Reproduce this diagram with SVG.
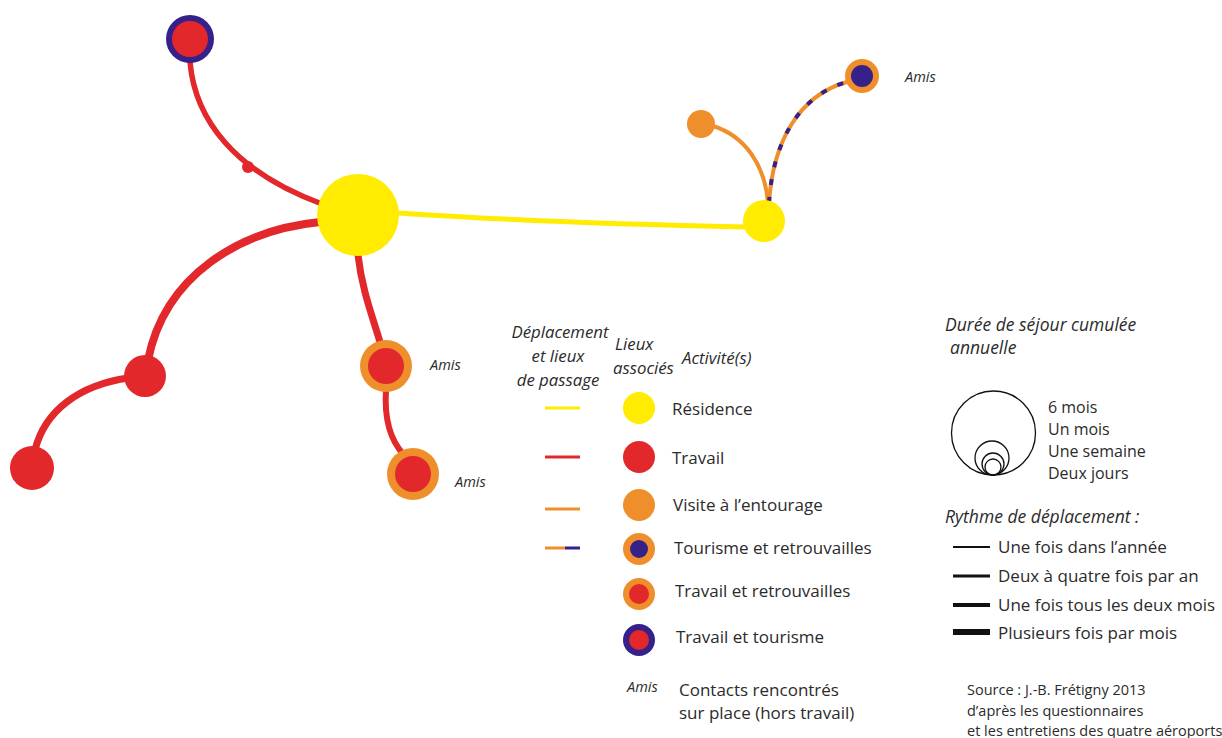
<svg xmlns="http://www.w3.org/2000/svg" width="1222" height="738" viewBox="0 0 1222 738">
<style>
.t{font-family:"Open Sans","Noto Sans",sans-serif;fill:#2b2b2b;font-size:17px}
.m{font-family:"Open Sans","Noto Sans",sans-serif;fill:#2b2b2b;font-size:16px}
.i{font-family:"Open Sans","Noto Sans",sans-serif;fill:#2b2b2b;font-style:italic;font-size:17.5px}
.h{font-family:"Open Sans","Noto Sans",sans-serif;fill:#2b2b2b;font-style:italic;font-size:16.8px}
.a{font-family:"Open Sans","Noto Sans",sans-serif;fill:#2b2b2b;font-style:italic;font-size:14.5px}
.s{font-family:"Open Sans","Noto Sans",sans-serif;fill:#2b2b2b;font-size:14.5px}
.red{fill:none;stroke:#e2282b;stroke-linecap:round}
.y{fill:#ffec00}
.r{fill:#e2282b}
.o{fill:#ef8f2b}
.p{fill:#36208a}
.k{fill:none;stroke:#111;stroke-width:1.3}
</style>
<rect width="1222" height="738" fill="#fff"/>
<g id="connectors">
<path class="red" d="M190,62 C195,120 235,172 322,204" stroke-width="5.5"/>
<circle cx="248" cy="167" r="6" class="r"/>
<path class="red" d="M320,222 C240,230 165,275 148,360" stroke-width="8"/>
<path class="red" d="M128,378 C80,385 45,410 35,450" stroke-width="7"/>
<path class="red" d="M358,255 C362,290 372,315 380,342" stroke-width="7"/>
<path class="red" d="M386,390 C384,420 390,440 404,455" stroke-width="6"/>
<path d="M398,213 C500,220 650,225 746,227" fill="none" stroke="#ffec00" stroke-width="5"/>
<path d="M713,126 C745,136 765,165 768,203" fill="none" stroke="#ef8f2b" stroke-width="4"/>
<path d="M769,203 C773,140 800,95 847,82" fill="none" stroke="#ef8f2b" stroke-width="4"/>
<path d="M769,203 C773,140 800,95 847,82" fill="none" stroke="#36208a" stroke-width="4" stroke-dasharray="6 12"/>
</g>
<g id="n-main"><circle cx="358" cy="215" r="41" class="y"/></g>
<g id="n-top"><circle cx="190" cy="39" r="24" class="p"/><circle cx="190" cy="39" r="18" class="r"/></g>
<g id="n-left1"><circle cx="145" cy="376" r="21" class="r"/></g>
<g id="n-left2"><circle cx="32" cy="468" r="22" class="r"/></g>
<g id="n-down1"><circle cx="386" cy="366" r="26" class="o"/><circle cx="386" cy="366" r="18" class="r"/><text x="430" y="370" class="a">Amis</text></g>
<g id="n-down2"><circle cx="413" cy="474" r="26" class="o"/><circle cx="413" cy="474" r="18" class="r"/><text x="455" y="487" class="a">Amis</text></g>
<g id="n-right"><circle cx="764" cy="221" r="21" class="y"/></g>
<g id="n-orange"><circle cx="701" cy="124" r="14" class="o"/></g>
<g id="n-tour"><circle cx="862" cy="76" r="17" class="o"/><circle cx="862" cy="76" r="11" class="p"/><text x="905" y="82" class="a">Amis</text></g>
<g id="legend">
<text x="560" y="338" class="h" text-anchor="middle">Déplacement</text>
<text x="558" y="362" class="h" text-anchor="middle">et lieux</text>
<text x="558" y="386" class="h" text-anchor="middle">de passage</text>
<text x="615" y="350" class="h">Lieux</text>
<text x="613" y="374" class="h">associés</text>
<text x="682" y="364" class="h">Activité(s)</text>
<line x1="545" y1="408" x2="580" y2="408" stroke="#ffec00" stroke-width="3"/>
<line x1="545" y1="457" x2="580" y2="457" stroke="#e2282b" stroke-width="3"/>
<line x1="545" y1="509" x2="580" y2="509" stroke="#ef8f2b" stroke-width="3"/>
<line x1="545" y1="548" x2="565" y2="548" stroke="#ef8f2b" stroke-width="3"/>
<line x1="565" y1="548" x2="580" y2="548" stroke="#36208a" stroke-width="3"/>
<circle cx="639" cy="408" r="16" class="y"/>
<circle cx="639" cy="457" r="16" class="r"/>
<circle cx="639" cy="505" r="16" class="o"/>
<circle cx="639" cy="549" r="16" class="o"/><circle cx="639" cy="549" r="9" class="p"/>
<circle cx="639" cy="594" r="16" class="o"/><circle cx="639" cy="594" r="10" class="r"/>
<circle cx="639" cy="640" r="16" class="p"/><circle cx="639" cy="640" r="10" class="r"/>
<text x="672" y="415" class="t">Résidence</text>
<text x="672" y="464" class="t">Travail</text>
<text x="673" y="511" class="t">Visite à l’entourage</text>
<text x="674" y="554" class="t">Tourisme et retrouvailles</text>
<text x="675" y="597" class="t">Travail et retrouvailles</text>
<text x="676" y="643" class="t">Travail et tourisme</text>
<text x="627" y="692" class="a">Amis</text>
<text x="679" y="696" class="t">Contacts rencontrés</text>
<text x="679" y="719" class="t">sur place (hors travail)</text>
</g>
<g id="legend-size">
<text x="945" y="331" class="i">Durée de séjour cumulée</text>
<text x="950" y="354" class="i">annuelle</text>
<circle cx="993.5" cy="433" r="42" class="k"/>
<circle cx="992" cy="458" r="17" class="k"/>
<circle cx="993" cy="464" r="11" class="k"/>
<circle cx="993" cy="467" r="8" class="k"/>
<text x="1048" y="413" class="m">6 mois</text>
<text x="1048" y="435" class="m">Un mois</text>
<text x="1048" y="457" class="m">Une semaine</text>
<text x="1048" y="479" class="m">Deux jours</text>
</g>
<g id="legend-rhythm">
<text x="945" y="523" class="i">Rythme de déplacement :</text>
<line x1="953" y1="547" x2="990" y2="547" stroke="#111" stroke-width="2"/>
<line x1="953" y1="576" x2="990" y2="576" stroke="#111" stroke-width="3"/>
<line x1="953" y1="605" x2="990" y2="605" stroke="#111" stroke-width="4"/>
<line x1="953" y1="632" x2="990" y2="632" stroke="#111" stroke-width="6"/>
<text x="998" y="553" class="t">Une fois dans l’année</text>
<text x="998" y="582" class="t">Deux à quatre fois par an</text>
<text x="998" y="611" class="t">Une fois tous les deux mois</text>
<text x="998" y="639" class="t">Plusieurs fois par mois</text>
</g>
<g id="source">
<text x="967" y="695" class="s">Source : J.-B. Frétigny 2013</text>
<text x="967" y="716" class="s">d’après les questionnaires</text>
<text x="967" y="736" class="s">et les entretiens des quatre aéroports</text>
</g>
</svg>
